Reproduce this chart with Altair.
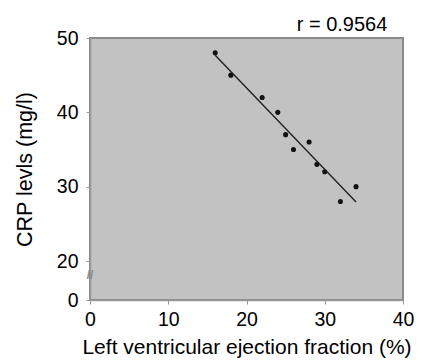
import altair as alt
import pandas as pd

# Data
lvef = [16, 18, 22, 24, 25, 26, 28, 29, 30, 32, 34]
crp = [48, 45, 42, 40, 37, 35, 36, 33, 32, 28, 30]
y_ticks = [0, 20, 30, 40, 50]
x_ticks = [0, 10, 20, 30, 40]
r_label = "r = 0.9564"

df = pd.DataFrame({"x": lvef, "y": crp})

FONT = "Liberation Sans"

xscale = alt.Scale(domain=[0, 40], nice=False, zero=False)
yscale = alt.Scale(domain=[0, 20, 50], range=[262, 223, 0], nice=False, zero=False)

xenc = alt.X("x:Q", scale=xscale,
             axis=alt.Axis(values=x_ticks, title="Left ventricular ejection fraction (%)",
                           grid=False, tickSize=4, labelPadding=6, titlePadding=8,
                           labelFontSize=19.5, titleFontSize=21, labelFont=FONT, titleFont=FONT,
                           labelColor="black", titleColor="black", titleFontWeight="normal",
                           labelOverlap=False, labelBound=False, labelFlush=False,
                           domainColor="#999999", domainWidth=1.5, tickColor="#999999"))
yenc = alt.Y("y:Q", scale=yscale,
             axis=alt.Axis(values=y_ticks, title="CRP levls (mg/l)",
                           grid=False, tickSize=4, labelPadding=8, titlePadding=20,
                           labelFontSize=19.5, titleFontSize=21.5, labelFont=FONT, titleFont=FONT,
                           labelColor="black", titleColor="black", titleFontWeight="normal",
                           domainColor="#999999", domainWidth=1.5, tickColor="#999999"))

base = alt.Chart(df)

points = base.mark_circle(size=26, color="#111111", opacity=1).encode(x=xenc, y=yenc)

line = base.transform_regression("x", "y").mark_line(color="#222222", strokeWidth=1.4).encode(
    x=alt.X("x:Q", scale=xscale), y=alt.Y("y:Q", scale=yscale))

brk = alt.Chart(pd.DataFrame({"x": [0], "y": [13], "t": ["//"]})).mark_text(
    fontSize=12, color="#8a8a8a", font=FONT, fontWeight="bold").encode(
    x=alt.X("x:Q", scale=xscale), y=alt.Y("y:Q", scale=yscale), text="t:N")

rtext = alt.Chart(pd.DataFrame({"t": [r_label]})).mark_text(
    fontSize=20, font=FONT, color="black", baseline="alphabetic", align="center").encode(
    x=alt.value(252), y=alt.value(-7), text="t:N")

chart = alt.layer(points, line, brk, rtext).properties(
    width=313, height=262,
    autosize=alt.AutoSizeParams(type="none"),
    padding={"left": 82, "top": 30, "right": 11, "bottom": 60},
    background="white",
).configure_view(fill="#c2c2c2", stroke="#8a8a8a", strokeWidth=2)

chart.save("out.html", embed_options={"renderer": "svg", "actions": False})
